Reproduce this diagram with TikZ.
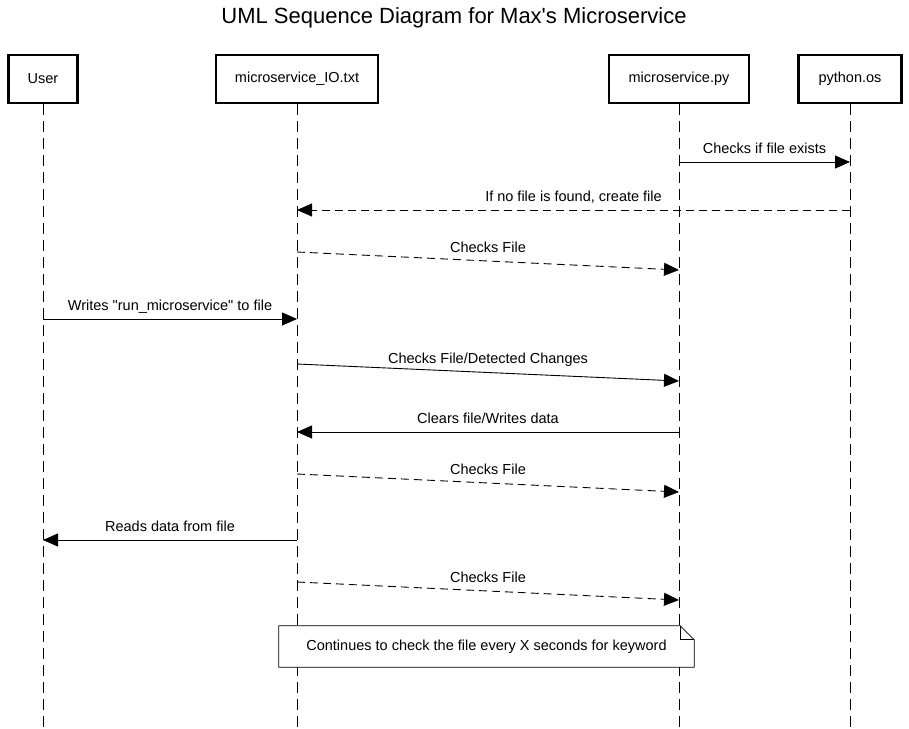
\documentclass[tikz,border=0pt]{standalone}
\usepackage{fontspec}
\setmainfont{Liberation Sans}
\usetikzlibrary{arrows.meta}

\begin{document}
\begin{tikzpicture}[
  x=1pt,y=-1pt,
  actor/.style={rectangle,draw,line width=2.2pt,minimum height=48pt,font=\fontsize{14.5}{17}\selectfont},
  lifeline/.style={draw,line width=0.8pt,dash pattern=on 11pt off 6pt},
  msg/.style={draw,line width=0.9pt,-{Triangle[length=15pt,width=13pt]}},
  reply/.style={msg,dash pattern=on 8pt off 5pt},
  lbl/.style={midway,anchor=base,inner sep=0pt,yshift=9pt,font=\fontsize{14.5}{17}\selectfont}
]
\useasboundingbox (0,0) rectangle (909,728);

\node[font=\fontsize{22}{26}\selectfont] (title) at (454,18) {UML Sequence Diagram for Max\textquotesingle s Microservice};

% lifeline heads
\node[actor,minimum width=69pt]  (user) at (43,79)  {User};
\node[actor,minimum width=162pt] (io)   at (297,79) {microservice\_IO.txt};
\node[actor,minimum width=140pt] (py)   at (679,79) {microservice.py};
\node[actor,minimum width=103pt] (os)   at (850,79) {python.os};

% lifelines
\foreach \n in {user,io,py,os}{
  \coordinate (\n-end) at (\n.south |- 0,728);
  \draw[lifeline] (\n.south) -- (\n-end);
}

% message ends
\coordinate (py1)  at (py |- 0,162);  \coordinate (os1)  at (os |- 0,162);
\coordinate (os2)  at (os |- 0,210);  \coordinate (io2)  at (io |- 0,210);
\coordinate (io3)  at (io |- 0,252);  \coordinate (py3)  at (py |- 0,270);
\coordinate (user4) at (user |- 0,319); \coordinate (io4) at (io |- 0,319);
\coordinate (io5)  at (io |- 0,364);  \coordinate (py5)  at (py |- 0,381);
\coordinate (py6)  at (py |- 0,432);  \coordinate (io6)  at (io |- 0,432);
\coordinate (io7)  at (io |- 0,474);  \coordinate (py7)  at (py |- 0,492);
\coordinate (io8)  at (io |- 0,540);  \coordinate (user8) at (user |- 0,540);
\coordinate (io9)  at (io |- 0,582);  \coordinate (py9)  at (py |- 0,600);

% messages
\draw[msg]   (py1) -- (os1) node[lbl] {Checks if file exists};
\draw[reply] (os2) -- (io2) node[lbl] {If no file is found, create file};
\draw[reply] (io3) -- (py3) node[lbl] {Checks File};
\draw[msg]   (user4) -- (io4) node[lbl] {Writes \textquotedbl run\_microservice\textquotedbl{} to file};
\draw[msg]   (io5) -- (py5) node[lbl] {Checks File/Detected Changes};
\draw[msg]   (py6) -- (io6) node[lbl] {Clears file/Writes data};
\draw[reply] (io7) -- (py7) node[lbl] {Checks File};
\draw[msg]   (io8) -- (user8) node[lbl] {Reads data from file};
\draw[reply] (io9) -- (py9) node[lbl] {Checks File};

% note
\node[minimum width=415pt,minimum height=41pt,inner sep=0pt] (note) at (486.5,646.5) {};
\draw[line width=0.8pt,fill=white] (note.south west) -- (note.north west)
  -- ([xshift=-14pt]note.north east) -- ([yshift=-14pt]note.north east)
  -- (note.south east) -- cycle;
\draw[line width=0.8pt] ([xshift=-14pt]note.north east) -- ([xshift=-14pt,yshift=-14pt]note.north east)
  -- ([yshift=-14pt]note.north east);
\node[font=\fontsize{14.5}{17}\selectfont] at (note) {Continues to check the file every X seconds for keyword};

\end{tikzpicture}
\end{document}
